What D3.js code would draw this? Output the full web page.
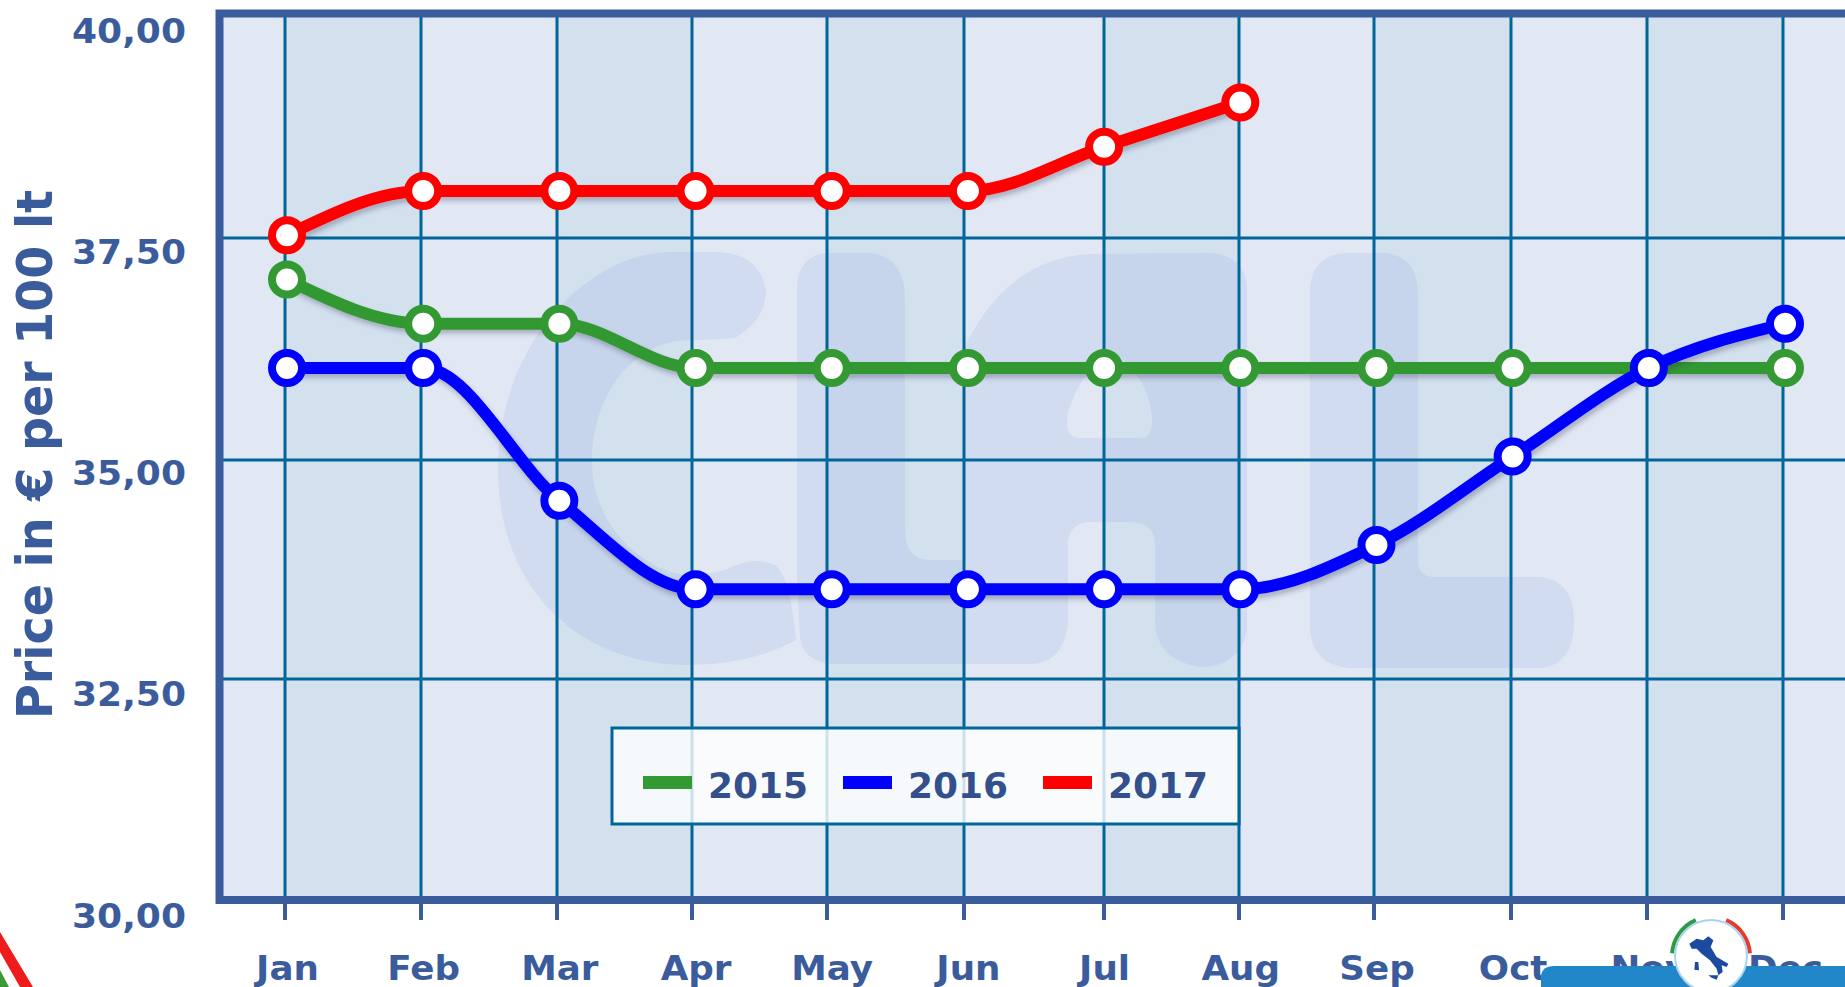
<!DOCTYPE html>
<html><head><meta charset="utf-8">
<script src="https://cdn.jsdelivr.net/npm/d3@7/dist/d3.min.js"></script>
<style>html,body{margin:0;padding:0;background:#fff;overflow:hidden}svg{display:block}
text{font-family:"DejaVu Sans",sans-serif;font-weight:700}</style></head><body><svg id="c" width="1845" height="987"></svg>
<script>
const months = ["Jan","Feb","Mar","Apr","May","Jun","Jul","Aug","Sep","Oct","Nov","Dec"];
const values2015 = [37,36.5,36.5,36,36,36,36,36,36,36,36,36];
const values2016 = [36,36,34.5,33.5,33.5,33.5,33.5,33.5,34,35,36,36.5];
const values2017 = [37.5,38,38,38,38,38,38.5,39];
const yTickValues = [30,32.5,35,37.5,40];
const seriesNames = ["2015","2016","2017"];
const seriesColors = ["#339933","#0000ff","#ff0000"];
const allSeries = [values2015,values2016,values2017];

// layout
const W=1845,H=987;
const frame={l:219.5,t:13.5,b:900,border:8};
const ink="#3b5c9c", grid="#006699";
const gridXRange=[285,421,557,692,827,964,1104,1239,1374,1511,1647,1783];
const gridYRange=[679,460,238];

const x=d3.scalePoint().domain(months).range([287,1785]);
const xGrid=d3.scaleOrdinal().domain(months).range(gridXRange);
const y=d3.scaleLinear().domain([30,40]).range([899,14]);
const yGrid=d3.scaleOrdinal().domain(yTickValues.slice(1,-1)).range(gridYRange);
const svg=d3.select("#c");
const defs=svg.append("defs");
const f=defs.append("filter").attr("id","sh").attr("filterUnits","userSpaceOnUse")
 .attr("x",0).attr("y",0).attr("width",W).attr("height",H);
f.append("feDropShadow").attr("dx",2).attr("dy",4).attr("stdDeviation",2.5).attr("flood-color","#334").attr("flood-opacity",0.3);

// plot background
svg.append("rect").attr("x",frame.l).attr("y",frame.t).attr("width",W-frame.l+10).attr("height",frame.b-frame.t).attr("fill","#e1e8f4");
svg.append("g").selectAll("rect").data(months.filter((m,i)=>i%2===0)).join("rect")
 .attr("x",m=>xGrid(m)).attr("y",frame.t)
 .attr("width",m=>xGrid(months[months.indexOf(m)+1])-xGrid(m))
 .attr("height",frame.b-frame.t).attr("fill","#d3e1ef");

// watermark "clal"
const wm=svg.append("g").attr("fill","rgb(70,105,205)").attr("fill-opacity",0.09);
wm.append("path").attr("d","M690 252 Q640 250 610 268 C540 305 498 385 498 470 C498 580 570 665 690 665 Q750 665 796 640 Q790 575 775 565 Q755 555 725 570 Q690 580 665 570 C620 550 592 510 592 460 C592 400 630 340 690 340 Q710 340 735 338 Q766 320 766 290 Q760 255 720 252 Z");
wm.append("path").attr("fill-rule","evenodd").attr("d","M830 253 L870 253 Q905 256 905 300 L905 530 Q905 560 930 560 L963 560 L963 350 C985 305 1020 258 1090 254 L1210 253 Q1247 256 1247 290 L1247 630 Q1240 667 1200 667 Q1155 660 1155 620 L1155 545 Q1155 522 1130 522 L1092 522 Q1068 522 1068 545 L1068 625 Q1062 664 1030 664 L830 664 Q803 660 800 638 L797 573 L797 285 Q800 253 830 253 Z M1113 353 Q1080 370 1068 413 Q1063 438 1080 438 L1140 438 Q1153 438 1152 417 Q1148 375 1113 353 Z");
wm.append("path").attr("d","M1345 253 L1385 253 Q1418 256 1418 295 L1418 560 Q1418 577 1435 577 L1540 577 Q1574 580 1574 622 Q1574 665 1540 668 L1350 668 Q1310 665 1310 625 L1310 290 Q1312 255 1345 253 Z");

// grid
svg.append("g").selectAll("line").data(months).join("line")
 .attr("x1",xGrid).attr("x2",xGrid).attr("y1",frame.t).attr("y2",frame.b)
 .attr("stroke",grid).attr("stroke-width",3);
svg.append("g").selectAll("line").data(yGrid.domain()).join("line")
 .attr("x1",frame.l).attr("x2",W).attr("y1",yGrid).attr("y2",yGrid)
 .attr("stroke",grid).attr("stroke-width",3);

// frame
svg.append("rect").attr("x",frame.l).attr("y",frame.t).attr("width",W).attr("height",frame.b-frame.t)
 .attr("fill","none").attr("stroke",ink).attr("stroke-width",frame.border);
svg.append("g").selectAll("line").data(months).join("line")
 .attr("x1",xGrid).attr("x2",xGrid).attr("y1",frame.b+4).attr("y2",920)
 .attr("stroke",ink).attr("stroke-width",4);

// axes
const xAxis=svg.append("g").attr("transform","translate(0,980)").call(d3.axisBottom(x).tickSize(0).tickPadding(0));
xAxis.select(".domain").remove();
xAxis.selectAll("text").attr("dy",0).attr("y",0).attr("fill",ink).style("font-size","34px").attr("transform","scale(1.05,1)");
const yAxis=svg.append("g").attr("transform","translate(186,28)").call(d3.axisLeft(y).tickValues(yTickValues).tickSize(0).tickPadding(0).tickFormat(d=>d3.format(".2f")(d).replace(".",",")));
yAxis.select(".domain").remove();
yAxis.selectAll("text").attr("x",0).attr("dy",0).attr("fill",ink).style("font-size","34px").attr("transform","scale(1.06,1)");
svg.append("text").attr("transform","translate(52,454.5) rotate(-90) scale(1,1.29)").attr("text-anchor","middle").attr("fill",ink)
 .style("font-size","38px").attr("textLength",529).attr("lengthAdjust","spacingAndGlyphs").text("Price in € per 100 lt");

// series
const line=d3.line().x((d,i)=>x(months[i])).y(d=>y(d)).curve(d3.curveMonotoneX);
allSeries.forEach((vals,k)=>{
 const g=svg.append("g");
 g.append("path").datum(vals).attr("d",line).attr("fill","none").attr("stroke",seriesColors[k]).attr("stroke-width",12).attr("filter","url(#sh)");
 g.selectAll("circle").data(vals).join("circle")
  .attr("cx",(d,i)=>x(months[i])).attr("cy",d=>y(d)).attr("r",15)
  .attr("fill","#fff").attr("stroke",seriesColors[k]).attr("stroke-width",8);
});

// legend
const lg=svg.append("g");
lg.append("rect").attr("x",612).attr("y",728).attr("width",627).attr("height",96).attr("fill","#fff").attr("fill-opacity",0.8).attr("stroke",grid).attr("stroke-width",3);
const swX=d3.scalePoint().domain(seriesNames).range([643,1043]);
seriesNames.forEach((n,k)=>{
 lg.append("rect").attr("x",swX(n)).attr("y",776).attr("width",49).attr("height",13).attr("fill",seriesColors[k]);
 lg.append("text").attr("x",swX(n)+65).attr("y",798).attr("fill","#34508c").style("font-size","35px")
  .attr("textLength",100).attr("lengthAdjust","spacingAndGlyphs").text(n);
});

// page furniture
svg.append("path").attr("d","M0 932 L33 987 L20 987 L0 952 Z").attr("fill","#ee1c1c");
svg.append("path").attr("d","M0 970 L9 987 L0 987 Z").attr("fill","#3a9a3a");
svg.append("path").attr("d","M1541 987 L1541 976 Q1542 966 1554 966 L1845 966 L1845 987 Z").attr("fill","#2187c9");
const cx=1711,cy=956;
const arc=d3.arc().innerRadius(37).outerRadius(41);
const logo=svg.append("g").attr("transform",`translate(${cx},${cy})`);
logo.append("path").attr("d",arc({startAngle:-1.5,endAngle:-0.4})).attr("fill","#2f9a46");
logo.append("path").attr("d",arc({startAngle:0.4,endAngle:1.5})).attr("fill","#e8392b");
logo.append("circle").attr("r",36).attr("fill","#fff").attr("stroke","#a9d3ee").attr("stroke-width",2);
const pts=s=>"M"+s.map(p=>[1500+p[0]/3-cx,847+p[1]/3-cy].join(" ")).join("L")+"Z";
logo.append("path").attr("fill","#1a4ba0").attr("d",pts([[568,290],[590,275],[610,280],[625,268],[640,280],[632,300],[650,330],[685,350],[680,360],[665,355],[668,375],[655,385],[650,365],[630,340],[605,320],[590,305],[575,305]])+pts([[625,385],[655,385],[650,398],[635,392]])+pts([[585,345],[595,345],[597,370],[583,368]]));
</script></body></html>
